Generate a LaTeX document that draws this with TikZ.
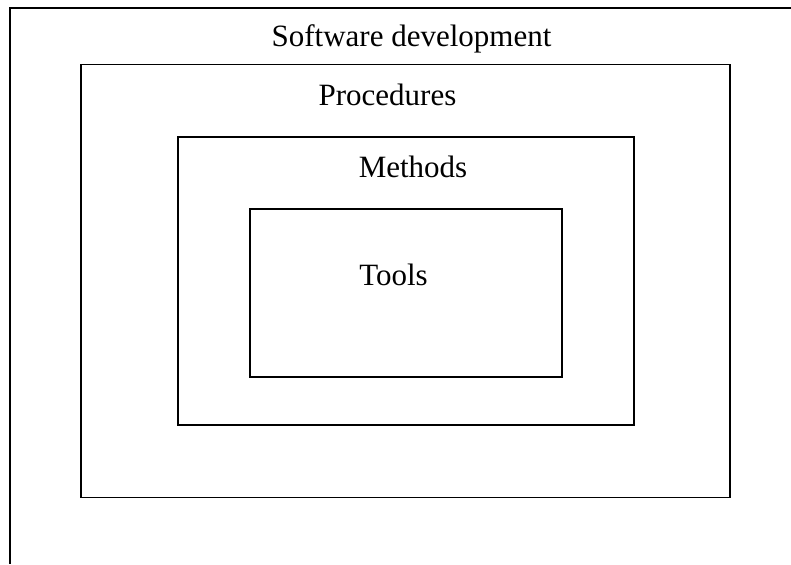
\documentclass[tikz,border=0pt]{standalone}
\usepackage{fontspec}
\setmainfont{Liberation Serif}
\begin{document}
\begin{tikzpicture}[x=1pt,y=-1pt,
  box/.style={draw=black,line width=1.5pt,inner sep=0pt,rectangle},
  lbl/.style={inner sep=0pt,anchor=base,font=\fontsize{31}{37}\selectfont}]
\useasboundingbox[fill=white] (0,0) rectangle (791,564);
\coordinate (otl) at (10,8);
\coordinate (otr) at (791,8);
\coordinate (obl) at (10,564);
\draw[line width=1.5pt] (otr) -- (otl) -- (obl);
\node[box,minimum width=649pt,minimum height=433pt] (proc) at (405.5,281) {};
\node[box,minimum width=456pt,minimum height=288pt] (meth) at (406,281) {};
\node[box,minimum width=312pt,minimum height=168pt] (tools) at (406,293) {};
\node[lbl] (tsw) at (411.5,47) {Software development};
\node[lbl] (tproc) at (387.5,106) {Procedures};
\node[lbl] (tmeth) at (413,177) {Methods};
\node[lbl] (ttools) at (393.5,285) {Tools};
\end{tikzpicture}
\end{document}
